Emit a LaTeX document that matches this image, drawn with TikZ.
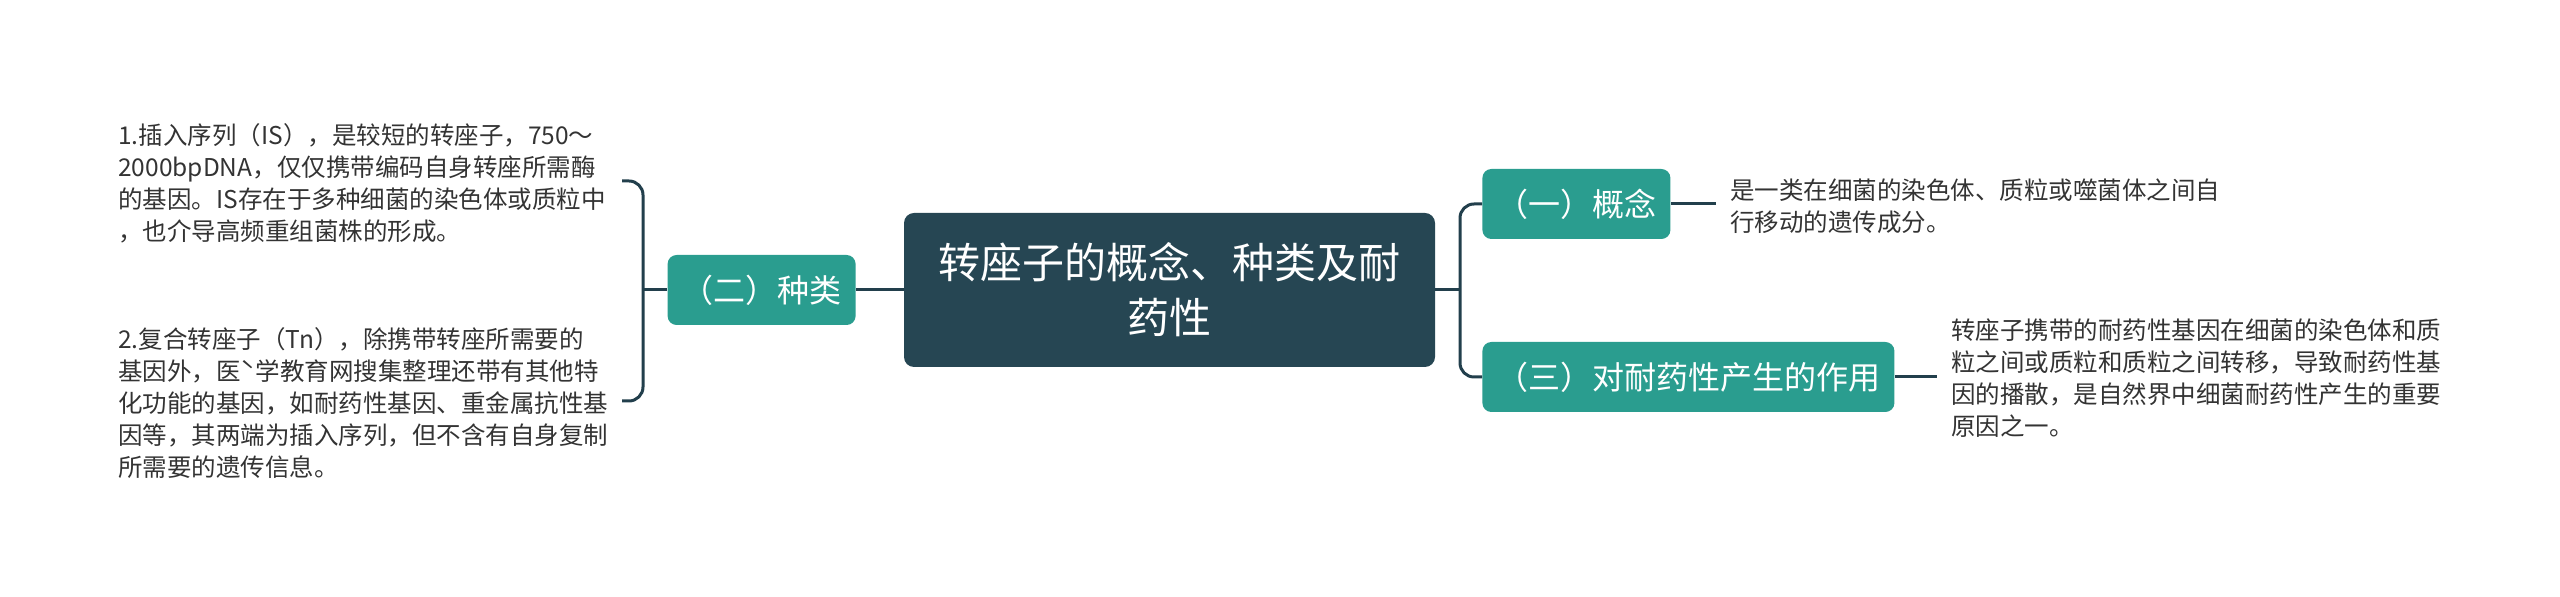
\documentclass[tikz,border=0pt]{standalone}
\usepackage{fontspec}
\setmainfont{Noto Sans CJK SC}
\usepackage{tikz}
\usetikzlibrary{positioning, calc}
\definecolor{rootblue}{HTML}{264653}
\definecolor{kindteal}{HTML}{2A9D8F}
\definecolor{linkdark}{HTML}{223F4C}
\definecolor{notegray}{HTML}{333333}
\tikzset{
  topicbox/.style={fill=rootblue, rounded corners=5pt, text=white, align=center,
    minimum width=265.5pt, minimum height=77pt, inner sep=0pt,
    font=\fontsize{21pt}{27.5pt}\selectfont},
  subbox/.style={fill=kindteal, rounded corners=4.5pt, text=white,
    minimum height=35pt, inner xsep=7pt, inner ysep=0pt,
    font=\fontsize{16pt}{20pt}\selectfont},
  notetext/.style={align=left, inner sep=0pt, text=notegray,
    font=\fontsize{12.25pt}{16pt}\selectfont},
  link/.style={draw=linkdark, line width=1.5pt}
}
\begin{document}
\begin{tikzpicture}[x=0.5pt, y=-0.5pt]
  \useasboundingbox (0,0) rectangle (2560,597);
  % Central topic
  \node[topicbox] (root) at (1169.5,290) {转座子的概念、种类及耐\\药性};
  % Branches
  \node[subbox, anchor=east] (kind) at (856,290) {（二）种类};
  \node[subbox, anchor=west] (concept) at (1482,204) {（一）概念};
  \node[subbox, anchor=west] (effect) at (1482,377) {（三）对耐药性产生的作用};
  % Notes, left
  \node[notetext, anchor=west] (isnote) at (118,183)
    {1.插入序列（IS），是较短的转座子，750～\\
     2000bpDNA，仅仅携带编码自身转座所需酶\\
     的基因。IS存在于多种细菌的染色体或质粒中\\
     ，也介导高频重组菌株的形成。};
  \node[notetext, anchor=west] (tnnote) at (118,403)
    {2.复合转座子（Tn），除携带转座所需要的\\
     基因外，医ˋ学教育网搜集整理还带有其他特\\
     化功能的基因，如耐药性基因、重金属抗性基\\
     因等，其两端为插入序列，但不含有自身复制\\
     所需要的遗传信息。};
  % Notes, right
  \node[notetext, anchor=west] (conceptnote) at (1730,206)
    {是一类在细菌的染色体、质粒或噬菌体之间自\\
     行移动的遗传成分。};
  \node[notetext, anchor=west] (effectnote) at (1951,378)
    {转座子携带的耐药性基因在细菌的染色体和质\\
     粒之间或质粒和质粒之间转移，导致耐药性基\\
     因的播散，是自然界中细菌耐药性产生的重要\\
     原因之一。};
  % Joints and free ends
  \coordinate (jl) at (643,290);
  \coordinate (jr) at (1460,290);
  \coordinate (isend) at (622,181);
  \coordinate (tnend) at (622,401);
  \coordinate (conceptend) at (1716,204);
  \coordinate (effectend) at (1937,377);
  % Connectors
  \draw[link] (root.west) -- (kind.east);
  \draw[link] (kind.west) -- (jl);
  \draw[link, rounded corners=7pt] (isend) -| (jl) |- (tnend);
  \draw[link] (root.east) -- (jr);
  \draw[link, rounded corners=7pt] (concept.west) -| (jr) |- (effect.west);
  \draw[link] (concept.east) -- (conceptend);
  \draw[link] (effect.east) -- (effectend);
\end{tikzpicture}
\end{document}
